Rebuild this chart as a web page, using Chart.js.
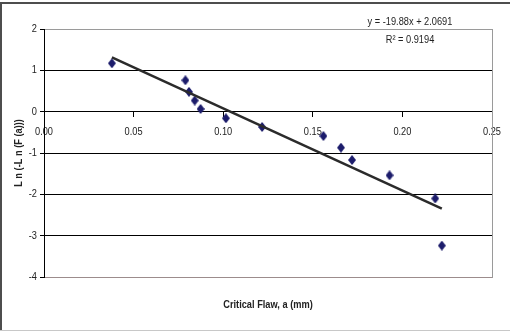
<!DOCTYPE html>
<html><head><meta charset="utf-8">
<script src="https://cdn.jsdelivr.net/npm/chart.js@4"></script>
<style>html,body{margin:0;padding:0;background:#fff;}#wrap{width:510px;height:332px;position:relative}canvas{display:block}</style>
</head><body><div id="wrap"><canvas id="c" width="510" height="332"></canvas></div>
<script>
// Data
const flawSize = [0.0379, 0.0789, 0.0809, 0.0841, 0.0874, 0.1015, 0.1217, 0.1559, 0.1657, 0.1719, 0.1928, 0.2183, 0.2220];
const lnLnF    = [1.17, 0.76, 0.48, 0.27, 0.065, -0.16, -0.37, -0.59, -0.87, -1.17, -1.54, -2.10, -3.24];
const trendX = [0.0379, 0.2220];
const trendY = [1.316, -2.344];
const xTickLabels = ['0.00', '0.05', '0.10', '0.15', '0.20', '0.25'];
const yTickLabels = ['-4', '-3', '-2', '-1', '0', '1', '2'];
const equationText = 'y = -19.88x + 2.0691';
const r2Text = 'R² = 0.9194';
const xTitleText = 'Critical Flaw, a (mm)';
const yTitleText = 'L n (-L n (F (a)))';

const FAM = "'Liberation Sans', Arial, sans-serif";
const NARROW = 0.84; // horizontal squeeze to imitate a narrow face

const canvas = document.getElementById('c');
const g2 = canvas.getContext('2d');
const origFill = g2.fillText.bind(g2);
const origMeasure = g2.measureText.bind(g2);
g2.fillText = function (text, x, y, maxWidth) {
  this.save();
  this.translate(x, y);
  this.scale(NARROW, 1);
  if (maxWidth !== undefined) origFill(text, 0, 0, maxWidth / NARROW); else origFill(text, 0, 0);
  this.restore();
};
g2.measureText = function (text) {
  const m = origMeasure(text);
  return {width: m.width * NARROW, actualBoundingBoxAscent: m.actualBoundingBoxAscent,
          actualBoundingBoxDescent: m.actualBoundingBoxDescent};
};

function diamond() {
  const c = document.createElement('canvas');
  c.width = 8; c.height = 10;
  const g = c.getContext('2d');
  g.fillStyle = '#1c1c6b';
  g.beginPath(); g.moveTo(4, 0); g.lineTo(8, 5); g.lineTo(4, 10); g.lineTo(0, 5); g.closePath(); g.fill();
  return c;
}

let xTitleH = 55, yAxisW = 44;
const TARGET = {left: 44, top: 29, right: 493, bottom: 277};

const framePlugin = {
  id: 'frame',
  beforeDatasetsDraw(chart) {
    const {ctx, chartArea: a} = chart;
    ctx.save();
    ctx.strokeStyle = '#9a9a9a'; ctx.lineWidth = 1;
    ctx.beginPath(); ctx.moveTo(Math.round(a.right) + 0.5, a.top); ctx.lineTo(Math.round(a.right) + 0.5, a.bottom + 1); ctx.stroke();
    ctx.restore();
  },
  afterDraw(chart) {
    const {ctx} = chart;
    ctx.save();
    ctx.fillStyle = '#4d4d4d';
    ctx.fillRect(0, 2, 510, 2);
    ctx.fillRect(0, 2, 2, 329);
    ctx.fillStyle = '#c8c8c8';
    ctx.fillRect(0, 330, 510, 1);
    ctx.fillStyle = '#222';
    ctx.font = '11px ' + FAM;
    ctx.textAlign = 'center'; ctx.textBaseline = 'middle';
    ctx.fillText(equationText, 410, 22);
    ctx.fillText(r2Text, 410, 40);
    ctx.restore();
  }
};

const chart = new Chart(canvas, {
  type: 'scatter',
  data: {
    datasets: [
      {
        data: trendX.map((x, i) => ({x, y: trendY[i]})),
        showLine: true, borderColor: '#2b2b2b', borderWidth: 2.5, pointRadius: 0, fill: false
      },
      {
        data: flawSize.map((x, i) => ({x, y: lnLnF[i]})),
        pointStyle: diamond(), pointRadius: 4, showLine: false
      }
    ]
  },
  options: {
    responsive: false, animation: false, events: [],
    layout: {padding: {left: 0, right: 17, top: 29, bottom: 0}},
    plugins: {legend: {display: false}, tooltip: {enabled: false}},
    scales: {
      x: {
        type: 'linear', axis: 'x', position: {y: 0}, min: 0, max: 0.25,
        ticks: {stepSize: 0.05, autoSkip: false, maxRotation: 0, padding: 9, color: '#222',
                font: {size: 11, family: FAM}, callback: (v, i) => xTickLabels[i]},
        grid: {drawOnChartArea: false, drawTicks: true, tickLength: 5, color: '#000'},
        border: {display: true, color: '#000', width: 1},
        afterFit: s => { s.height = 0; }
      },
      xTitle: {
        type: 'linear', axis: 'x', position: 'bottom', min: 0, max: 1,
        ticks: {display: false}, grid: {display: false}, border: {display: false},
        title: {display: true, text: xTitleText, color: '#222',
                font: {size: 11, weight: 'bold', family: FAM}, padding: {top: 0, bottom: 20}},
        afterFit: s => { s.height = xTitleH; }
      },
      y: {
        type: 'linear', position: 'left', min: -4, max: 2,
        ticks: {stepSize: 1, padding: 3, color: '#222', font: {size: 11, family: FAM},
                callback: (v, i) => yTickLabels[i]},
        grid: {
          color: ctx => ctx.tick && ctx.tick.value === -4 ? '#9c8c8c' : (ctx.tick && ctx.tick.value === 2 ? '#9a9a9a' : '#000'),
          tickColor: '#000', tickLength: 4, lineWidth: 1
        },
        border: {display: true, color: '#000', width: 1},
        title: {display: true, text: yTitleText, color: '#222',
                font: {size: 11, weight: 'bold', family: FAM}, padding: {top: 12, bottom: 0}},
        afterFit: s => { s.width = yAxisW; }
      }
    }
  },
  plugins: [framePlugin]
});

// Nudge the layout so the plot area sits where it does in the reference
const a = chart.chartArea;
const pad = chart.options.layout.padding;
pad.right += Math.round(a.right - TARGET.right);
pad.top += Math.round(TARGET.top - a.top);
xTitleH += Math.round(a.bottom - TARGET.bottom);
yAxisW += Math.round(TARGET.left - a.left);
chart.update();
</script>
</body></html>
